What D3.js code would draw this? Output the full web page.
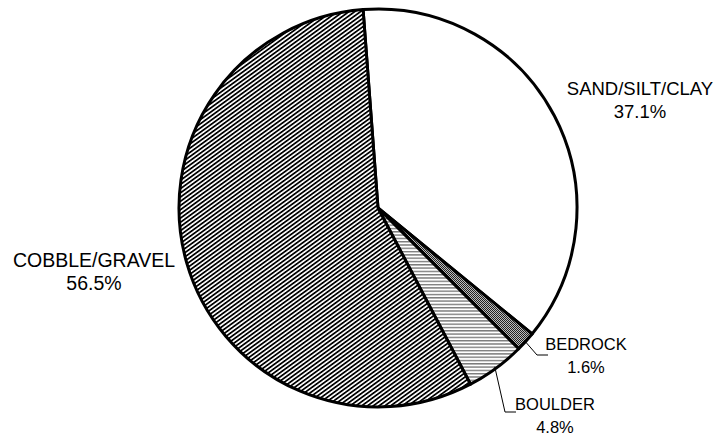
<!DOCTYPE html>
<html>
<head>
<meta charset="utf-8">
<script src="https://cdn.jsdelivr.net/npm/d3@7"></script>
<style>
  html, body { margin: 0; padding: 0; background: #fff; }
  text { font-family: "Liberation Sans", Arial, sans-serif; fill: #000; }
</style>
</head>
<body>
<svg id="chart" width="725" height="437"></svg>
<script>
// Substrate composition
const categories = ["SAND/SILT/CLAY", "BEDROCK", "BOULDER", "COBBLE/GRAVEL"];
const shares = [37.1, 1.6, 4.8, 56.5];
const shareLabels = ["37.1%", "1.6%", "4.8%", "56.5%"];

const svg = d3.select("#chart");
const cx = 378, cy = 208, radius = 199;
const startOffset = -4.3 * Math.PI / 180;

const defs = svg.append("defs");

// wide upward diagonal hatch
const diag = defs.append("pattern")
  .attr("id", "hatch-diag")
  .attr("patternUnits", "userSpaceOnUse")
  .attr("width", 3.4).attr("height", 10)
  .attr("patternTransform", "rotate(54)");
diag.append("rect").attr("width", 3.4).attr("height", 10).attr("fill", "#fff");
diag.append("rect").attr("width", 1.75).attr("height", 10).attr("fill", "#000");

// horizontal line hatch
const horiz = defs.append("pattern")
  .attr("id", "hatch-horiz")
  .attr("patternUnits", "userSpaceOnUse")
  .attr("width", 8).attr("height", 3.3);
horiz.append("rect").attr("width", 8).attr("height", 3.3).attr("fill", "#fff");
horiz.append("rect").attr("width", 8).attr("height", 1.4).attr("fill", "#7a7a7a");

// fine checker
const check = defs.append("pattern")
  .attr("id", "hatch-check")
  .attr("patternUnits", "userSpaceOnUse")
  .attr("width", 2).attr("height", 2);
check.append("rect").attr("width", 2).attr("height", 2).attr("fill", "#bdbdbd");
check.append("rect").attr("width", 1).attr("height", 1).attr("fill", "#222");
check.append("rect").attr("x", 1).attr("y", 1).attr("width", 1).attr("height", 1).attr("fill", "#222");

const fills = d3.scaleOrdinal()
  .domain(categories)
  .range(["#fff", "url(#hatch-check)", "url(#hatch-horiz)", "url(#hatch-diag)"]);

const pie = d3.pie()
  .sort(null)
  .value((d, i) => shares[i])
  .startAngle(startOffset)
  .endAngle(startOffset + 2 * Math.PI);

const arcs = pie(categories);
const arc = d3.arc().innerRadius(0).outerRadius(radius);

const g = svg.append("g").attr("transform", `translate(${cx},${cy})`);

g.selectAll("path.slice")
  .data(arcs)
  .join("path")
  .attr("class", "slice")
  .attr("d", arc)
  .attr("fill", d => fills(d.data))
  .attr("stroke", "#000")
  .attr("stroke-width", 3)
  .attr("stroke-linejoin", "round");

// label placement: [centre x, first baseline, font size]
const labelPos = {
  "SAND/SILT/CLAY": [640, 95, 18.5],
  "BEDROCK": [586, 350, 16.5],
  "BOULDER": [555, 410, 16.5],
  "COBBLE/GRAVEL": [94, 267, 19.5]
};

// leader lines for the two small slices
const leaders = {
  "BEDROCK": [[537, 355], [548, 355]],
  "BOULDER": [[505, 412], [516, 412]]
};

arcs.forEach((d, i) => {
  const name = d.data;
  if (leaders[name]) {
    const mid = (d.startAngle + d.endAngle) / 2;
    const r0 = radius * 0.99;
    const p0 = [cx + r0 * Math.sin(mid), cy - r0 * Math.cos(mid)];
    const pts = [p0, ...leaders[name]];
    svg.append("path")
      .attr("d", d3.line()(pts))
      .attr("fill", "none")
      .attr("stroke", "#000")
      .attr("stroke-width", 1);
  }
  const [lx, ly, fs] = labelPos[name];
  const t = svg.append("text")
    .attr("x", lx).attr("y", ly)
    .attr("text-anchor", "middle")
    .attr("font-size", fs);
  t.append("tspan").attr("x", lx).text(name);
  t.append("tspan").attr("x", lx).attr("dy", 23).text(shareLabels[i]);
});
</script>
</body>
</html>
